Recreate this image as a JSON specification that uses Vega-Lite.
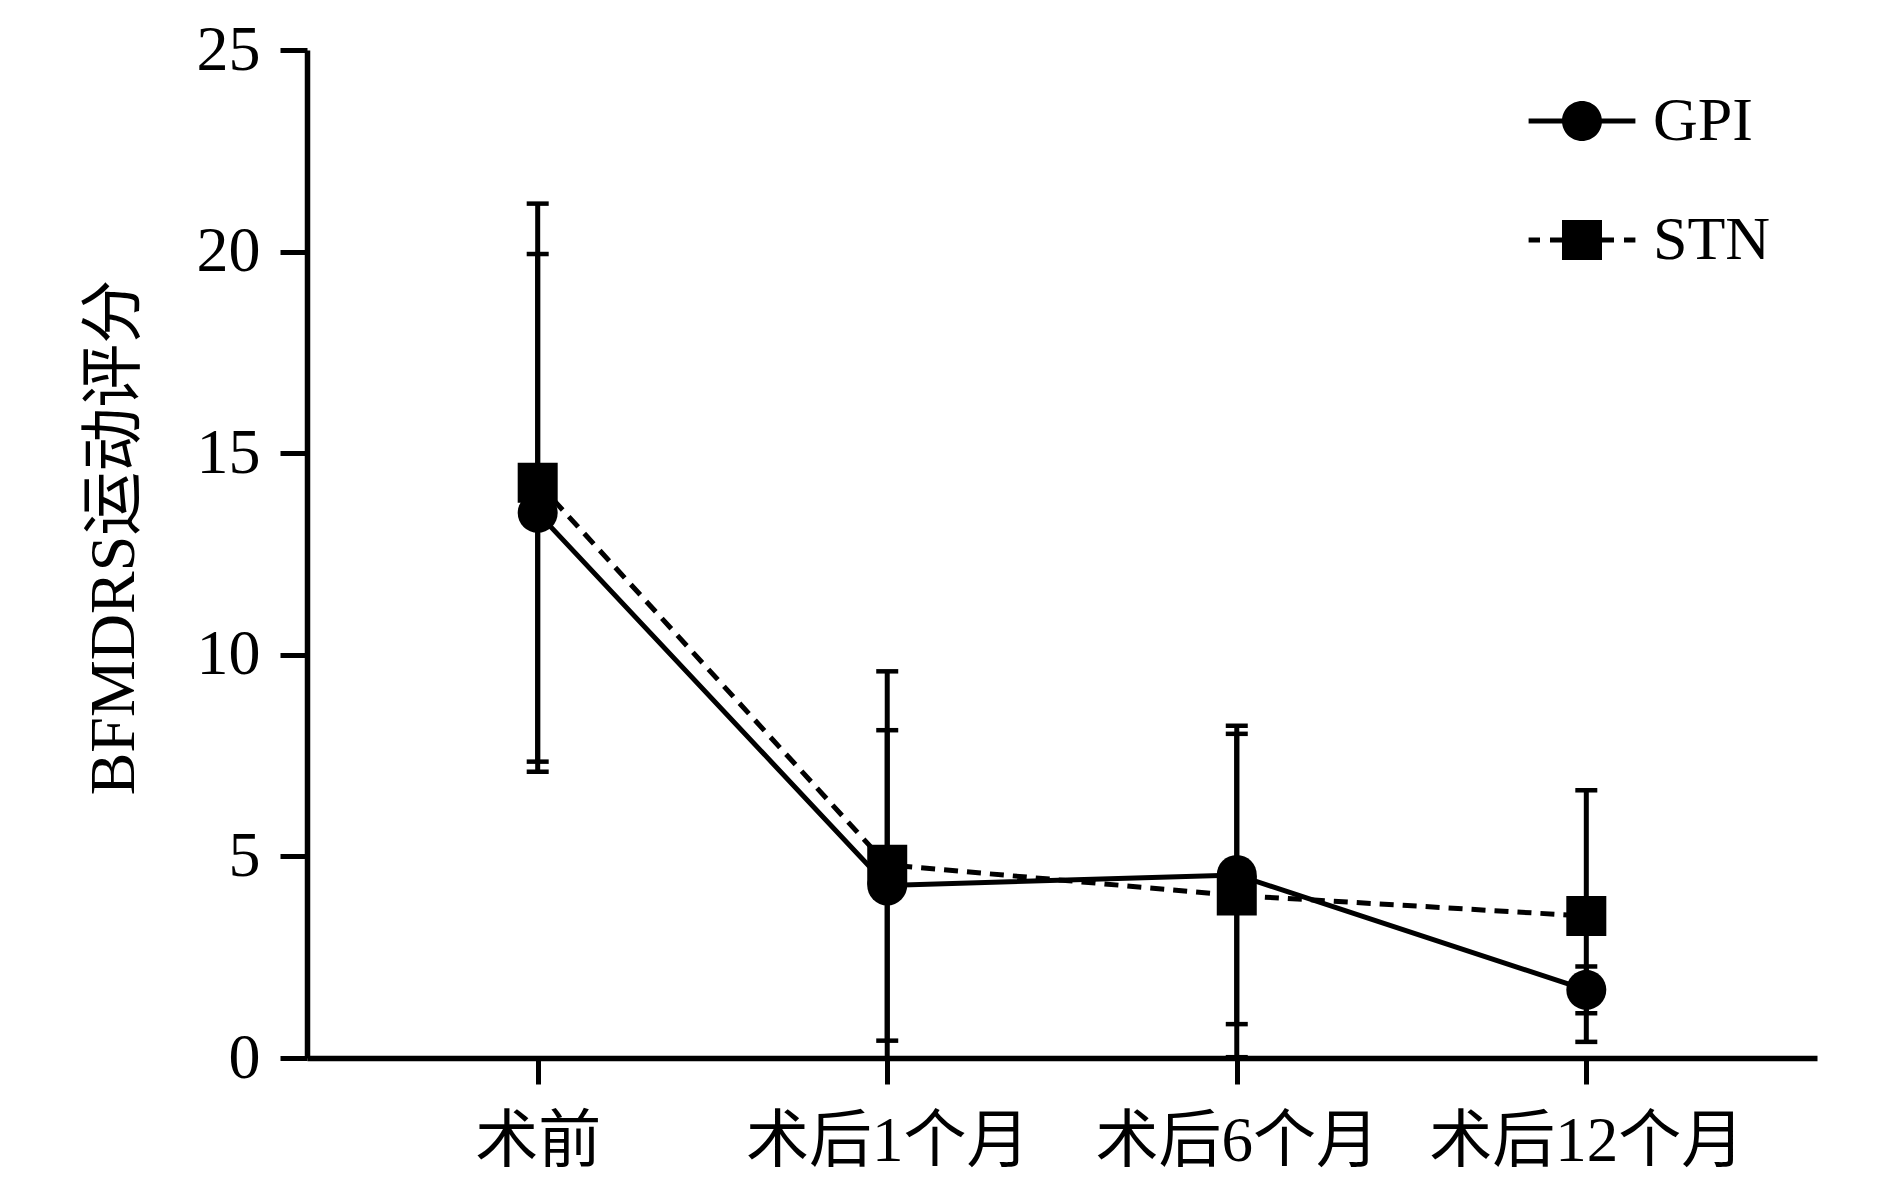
{
  "$schema": "https://vega.github.io/schema/vega-lite/v6.json",
  "width": 1510,
  "height": 1008,
  "autosize": "none",
  "padding": {"left": 307, "top": 50, "right": 73, "bottom": 135},
  "background": "white",
  "config": {"view": {"stroke": null}, "font": "Liberation Serif, Noto Sans CJK SC"},
  "data": {"values": [
    {"time": "术前", "group": "GPI", "mean": 13.52, "sd": 6.42},
    {"time": "术后1个月", "group": "GPI", "mean": 4.28, "sd": 3.85},
    {"time": "术后6个月", "group": "GPI", "mean": 4.54, "sd": 3.70},
    {"time": "术后12个月", "group": "GPI", "mean": 1.69, "sd": 0.58},
    {"time": "术前", "group": "STN", "mean": 14.27, "sd": 6.92},
    {"time": "术后1个月", "group": "STN", "mean": 4.79, "sd": 4.8},
    {"time": "术后6个月", "group": "STN", "mean": 4.03, "sd": 4.01},
    {"time": "术后12个月", "group": "STN", "mean": 3.52, "sd": 3.12}
  ]},
  "encoding": {
    "x": {
      "field": "time", "type": "nominal",
      "sort": ["术前", "术后1个月", "术后6个月", "术后12个月"],
      "scale": {"type": "point", "padding": 0.66},
      "axis": {
        "title": null, "labelAngle": 0, "domainColor": "black", "domainWidth": 5.5,
        "tickColor": "black", "tickWidth": 5, "tickSize": 26,
        "labelFontSize": 63, "labelColor": "black", "labelPadding": 26, "labelLimit": 0,
        "labelFont": "Liberation Serif, Noto Sans CJK SC"
      }
    },
    "y": {
      "field": "mean", "type": "quantitative",
      "scale": {"domain": [0, 25], "nice": false, "zero": true},
      "axis": {
        "title": "BFMDRS运动评分", "titleFontSize": 64, "titleFontWeight": "normal",
        "titleColor": "black", "titleFont": "Liberation Serif, Noto Sans CJK SC",
        "titlePadding": 50, "titleY": 487,
        "values": [0, 5, 10, 15, 20, 25], "grid": false,
        "domainColor": "black", "domainWidth": 5.5,
        "tickColor": "black", "tickWidth": 5, "tickSize": 27,
        "labelFontSize": 64, "labelColor": "black", "labelPadding": 20,
        "labelFont": "Liberation Serif"
      }
    }
  },
  "resolve": {"scale": {"shape": "independent"}},
  "layer": [
    {
      "transform": [{"filter": "datum.group === 'GPI'"}],
      "mark": {"type": "line", "color": "black", "strokeWidth": 5}
    },
    {
      "transform": [{"filter": "datum.group === 'STN'"}],
      "mark": {"type": "line", "color": "black", "strokeWidth": 5, "strokeDash": [14, 9]}
    },
    {
      "mark": {"type": "errorbar", "color": "black", "opacity": 1, "thickness": 5,
        "rule": {"opacity": 1, "color": "black"},
        "ticks": {"size": 22, "thickness": 4.5, "color": "black", "opacity": 1}},
      "encoding": {
        "yError": {"field": "sd"},
        "detail": {"field": "group", "type": "nominal"}
      }
    },
    {
      "mark": {"type": "point", "filled": true, "color": "black", "opacity": 1, "size": 1600},
      "encoding": {
        "shape": {
          "field": "group", "type": "nominal",
          "scale": {"domain": ["GPI", "STN"], "range": ["circle", "square"]},
          "legend": null
        }
      }
    },
    {
      "mark": {"type": "point", "filled": true, "color": "black", "opacity": 1, "size": 0},
      "encoding": {
        "shape": {
          "field": "group", "type": "nominal",
          "scale": {"domain": ["GPI", "STN"], "range": [
            "M-2.67,-0.125H-0.9V0.125H-2.67ZM0.9,-0.125H2.67V0.125H0.9ZM1,0A1,1,0,1,1,-1,0A1,1,0,1,1,1,0Z",
            "M-2.67,-0.125H-2.1V0.125H-2.67ZM-1.6,-0.125H-1V0.125H-1.6ZM1,-0.125H1.6V0.125H1ZM2.1,-0.125H2.67V0.125H2.1ZM-1,-1H1V1H-1Z"
          ]},
          "legend": {
            "title": null, "orient": "none", "legendX": 1244, "legendY": 40,
            "labelFontSize": 62, "labelFont": "Liberation Serif", "labelColor": "black",
            "symbolSize": 1600, "symbolFillColor": "black", "symbolStrokeWidth": 0,
            "symbolOpacity": 1,
            "labelOffset": 40, "rowPadding": 57, "padding": 0,
            "labelLimit": 0
          }
        }
      }
    }
  ]
}
